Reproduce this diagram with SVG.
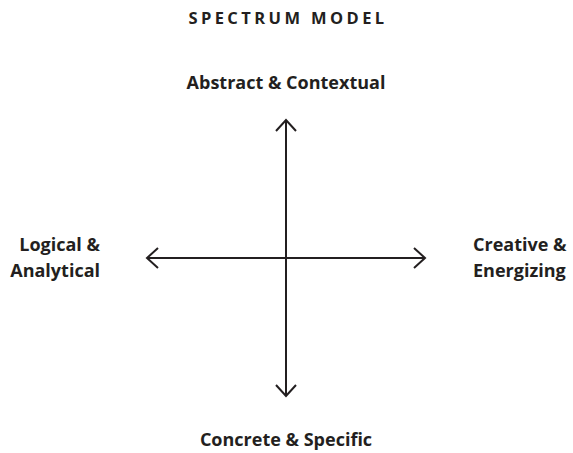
<svg xmlns="http://www.w3.org/2000/svg" width="573" height="453" viewBox="0 0 573 453">
<style>
.t{font-family:"Open Sans","Noto Sans","Liberation Sans",sans-serif;font-weight:700;fill:#231f20;font-size:18px}
.ttl{font-size:16.5px;letter-spacing:3.4px}
.ax{stroke:#231f20;stroke-width:2;fill:none;stroke-linecap:butt;stroke-linejoin:miter}
</style>
<rect width="573" height="453" fill="#fff"/>
<text class="t ttl" x="288" y="24" text-anchor="middle">SPECTRUM MODEL</text>
<g id="connectors">
<path class="ax" d="M286 121V396M148 258H424"/>
<path class="ax" d="M276 131L286 120L296 131M276 385L286 396L296 385M158 248L147 258L158 268M414 248L425 258L414 268"/>
</g>
<g id="top"><text class="t" x="286" y="89" text-anchor="middle">Abstract &amp; Contextual</text></g>
<g id="left"><text class="t" text-anchor="end"><tspan x="100" y="251">Logical &amp;</tspan><tspan x="100" y="277">Analytical</tspan></text></g>
<g id="right"><text class="t"><tspan x="473" y="251">Creative &amp;</tspan><tspan x="473" y="277">Energizing</tspan></text></g>
<g id="bottom"><text class="t" x="286" y="446" text-anchor="middle">Concrete &amp; Specific</text></g>
</svg>
